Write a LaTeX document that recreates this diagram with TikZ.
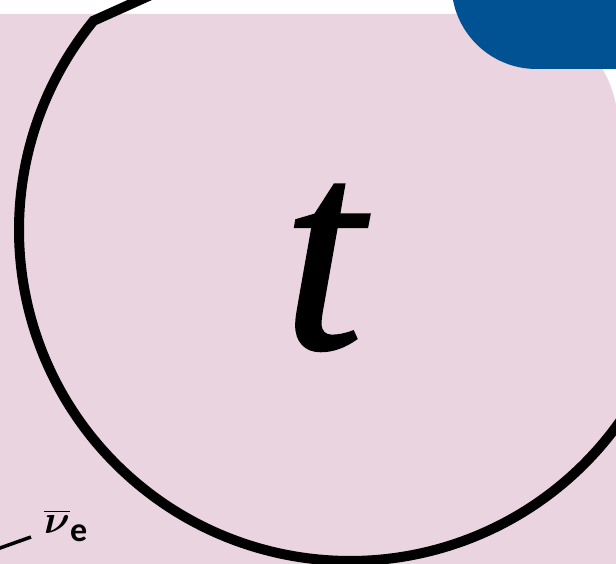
\RequirePackage{fix-cm}
\documentclass[tikz,border=0pt]{standalone}
\usepackage{amsmath,bm}
\usepackage{fontspec}
\usetikzlibrary{calc}
\newfontfamily\carlito{Carlito}
\newfontfamily\tbig[FakeBold=1]{Liberation Serif Italic}
\definecolor{bgpink}{RGB}{234,212,223}
\definecolor{tumblue}{RGB}{0,82,147}
\begin{document}
\begin{tikzpicture}[x=1pt,y=1pt,
  ring/.style={draw=black,line width=10pt},
  nuline/.style={draw=black,line width=3.5pt},
  bigletter/.style={font=\tbig\fontsize{290}{290}\selectfont,inner sep=0pt,anchor=base},
  nulabel/.style={inner sep=0pt,anchor=base west}]
\useasboundingbox (0,0) rectangle (616,-564);
\clip (0,0) rectangle (616,-564);
\fill[white] (0,0) rectangle (616,-564);
% pink panel
\fill[bgpink,rounded corners=112pt] (-300,-14) -- (618,-14) -- (618,-900) -- (-300,-900) -- cycle;
% blue box
\fill[tumblue,rounded corners=85pt] (451.5,-69) rectangle (900,150);
% circle
\coordinate (c) at (350,-230);
\coordinate (kink) at ($(c)+(140.8:331pt)$);
\coordinate (topend) at ($(kink)+(150,67.5)$);
\draw[ring] (topend) -- (kink) arc[start angle=140.8,end angle=345,radius=331pt];
% letter
\node[bigletter] (t) at (323,-348) {t};
% neutrino
\coordinate (nuend) at (31,-537);
\coordinate (nustart) at (-45,-564);
\draw[nuline] (nustart) -- (nuend);
\node[nulabel] (nubar) at (44,-533) {\fontsize{40}{40}\selectfont$\bm{\overline{\nu}}$\raisebox{-8pt}{\fontsize{34}{34}\selectfont\carlito\bfseries e}};
\end{tikzpicture}
\end{document}
